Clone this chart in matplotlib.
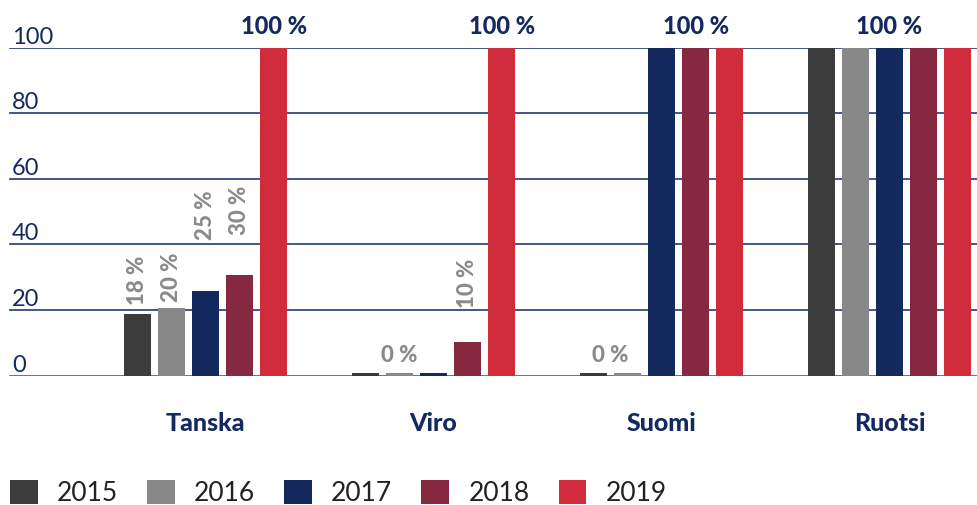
import matplotlib
matplotlib.use("Agg")
import matplotlib.pyplot as plt

# ---- data ----
countries = ["Tanska", "Viro", "Suomi", "Ruotsi"]
years = ["2015", "2016", "2017", "2018", "2019"]

v2015 = [18.7, 0.8, 0.8, 100]
v2016 = [20.6, 0.8, 0.8, 100]
v2017 = [25.8, 0.8, 100, 100]
v2018 = [30.6, 10.3, 100, 100]
v2019 = [100, 100, 100, 100]

# value labels: (country, year index, text)
vert_labels = [(0, 0, "18 %"), (0, 1, "20 %"), (0, 2, "25 %"), (0, 3, "30 %"), (1, 3, "10 %")]
flat_labels = [(1, 1, "0 %"), (2, 1, "0 %")]
top_labels = [(0, 4, "100 %"), (1, 4, "100 %"), (2, 3, "100 %"), (3, 2, "100 %")]

yticks = [0, 20, 40, 60, 80, 100]

# ---- style ----
COLORS = ["#3c3c3c", "#888888", "#142a5f", "#86283f", "#d12c3b"]
NAVY = "#142a5f"
GRID = "#34497c"
GREY_TXT = "#8a8a8a"
vert_label_base = [21.5, 22.4, 41.3, 42.8, 20.6]   # where the rotated labels start
flat_label_dx = [0, -0.5]                          # in bar pitches

W, H = 978, 505
fig = plt.figure(figsize=(W / 100, H / 100), dpi=100)
# axes spans the full width; y from the 0-line to the 100-line
ax = fig.add_axes([0, (H - 375.5) / H, 1, (375.5 - 47.5) / H])
ax.set_xlim(-205.5 / 228, (W - 205.5) / 228)
ax.set_ylim(0, 100)
ax.axis("off")

pitch = 34.2 / 228
width = 27 / 228
series = [v2015, v2016, v2017, v2018, v2019]

for t in yticks:
    ax.axhline(t, xmin=10 / W, xmax=1, color=GRID, lw=1.8 if t == 0 else 1.3, zorder=1)
    ax.text(12 / W, t + 1.2, str(t), transform=ax.get_yaxis_transform(),
            fontsize=17, color=NAVY, family="Lato", fontweight="normal",
            ha="left", va="baseline")

bars = []
for j, vals in enumerate(series):
    xs = [i + (j - 2) * pitch for i in range(len(countries))]
    b = ax.bar(xs, vals, width=width, color=COLORS[j], zorder=2, label=years[j])
    bars.append(b)

def bar_x(i, j):
    return i + (j - 2) * pitch

for k, (i, j, txt) in enumerate(vert_labels):
    ax.text(bar_x(i, j), vert_label_base[k], txt, rotation=90, ha="center", va="bottom",
            fontsize=16, color=GREY_TXT, fontweight=900, family="Lato",
            clip_on=False)

for k, (i, j, txt) in enumerate(flat_labels):
    ax.text(bar_x(i, j) + flat_label_dx[k] * pitch, 4.1, txt, ha="center", va="baseline",
            fontsize=16, color=GREY_TXT, fontweight=900, family="Lato")

for i, j, txt in top_labels:
    ax.text(bar_x(i, j), 104, txt, ha="center", va="baseline",
            fontsize=17, color=NAVY, fontweight=900, family="Lato",
            clip_on=False)

for i, c in enumerate(countries):
    ax.text(i, -14.5, c, ha="center", va="center", fontsize=18, color=NAVY,
            fontweight=900, family="Lato", clip_on=False)

fig.legend(handles=bars, labels=years, loc="center left",
           bbox_to_anchor=(10 / W, 1 - 493 / H), ncol=5, frameon=False,
           prop={"family": "Lato", "weight": "normal", "size": 19},
           labelcolor="#222222", handlelength=1.06, handleheight=1.06,
           handletextpad=0.72, columnspacing=1.1, borderpad=0, borderaxespad=0)

fig.savefig("out.png", dpi=100)
